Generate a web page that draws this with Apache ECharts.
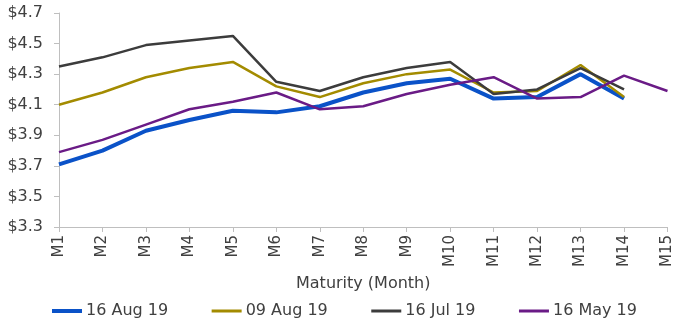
<!DOCTYPE html>
<html>
<head>
<meta charset="utf-8">
<style>
  html, body { margin: 0; padding: 0; background: #fff; }
  #chart { width: 675px; height: 323px; }
</style>
<script src="https://cdn.jsdelivr.net/npm/echarts@6/dist/echarts.min.js"></script>
</head>
<body>
<div id="chart"></div>
<script>
// Forward curve by maturity month, four snapshot dates
const maturities = ['M1','M2','M3','M4','M5','M6','M7','M8','M9','M10','M11','M12','M13','M14','M15'];

const aug16 = [3.71, 3.80, 3.93, 4.00, 4.06, 4.05, 4.09, 4.18, 4.24, 4.27, 4.14, 4.15, 4.30, 4.14, null];
const aug09 = [4.10, 4.18, 4.28, 4.34, 4.38, 4.22, 4.15, 4.24, 4.30, 4.33, 4.18, 4.19, 4.36, 4.15, null];
const jul16 = [4.35, 4.41, 4.49, 4.52, 4.55, 4.25, 4.19, 4.28, 4.34, 4.38, 4.17, 4.20, 4.34, 4.20, null];
const may16 = [3.79, 3.87, 3.97, 4.07, 4.12, 4.18, 4.07, 4.09, 4.17, 4.23, 4.28, 4.14, 4.15, 4.29, 4.19];

const seriesNames = ['16 Aug 19', '09 Aug 19', '16 Jul 19', '16 May 19'];
const yTicks = { min: 3.3, max: 4.7, step: 0.2 };

const FONT = '"DejaVu Sans", sans-serif';
const TEXT = '#404040';
const AXIS = '#bfbfbf';

const COLORS = ['#0a52c8', '#a38b00', '#3c3c3c', '#6a1b86'];
const WIDTHS = [4, 2.5, 2.5, 2.5];

const chart = echarts.init(document.getElementById('chart'), null, { renderer: 'canvas' });

function line(name, data, color, width) {
  return {
    name, type: 'line', data,
    symbol: 'none', connectNulls: false,
    lineStyle: { color, width },
    itemStyle: { color }
  };
}

chart.setOption({
  animation: false,
  textStyle: { fontFamily: FONT, color: TEXT },
  grid: { left: 59, right: 7, top: 13, bottom: 96, containLabel: false },
  legend: {
    top: 298,
    left: 45,
    itemWidth: 30,
    itemHeight: 14,
    itemGap: 42,
    // line-only legend keys: hide the marker drawn on top of each key line
    itemStyle: { opacity: 0 },
    textStyle: { fontFamily: FONT, fontSize: 16, color: TEXT, padding: [0, 0, 0, -1] },
    data: seriesNames.map((n, i) => ({
      name: n,
      lineStyle: { color: COLORS[i], width: i === 0 ? 4 : 3 }
    }))
  },
  xAxis: {
    type: 'category',
    data: maturities,
    boundaryGap: false,
    name: 'Maturity (Month)',
    nameLocation: 'middle',
    nameGap: 49,
    nameTextStyle: { fontFamily: FONT, fontSize: 16, color: TEXT },
    axisLine: { lineStyle: { color: AXIS, width: 1 } },
    axisTick: { show: true, alignWithLabel: true, length: 5, lineStyle: { color: AXIS } },
    axisLabel: { rotate: 90, margin: 8, fontSize: 15, color: TEXT, fontFamily: FONT, interval: 0 },
    splitLine: { show: false }
  },
  yAxis: {
    type: 'value',
    min: yTicks.min,
    max: yTicks.max,
    interval: yTicks.step,
    axisLine: { show: true, lineStyle: { color: AXIS, width: 1 } },
    axisTick: { show: true, length: 5, lineStyle: { color: AXIS } },
    axisLabel: {
      margin: 16, fontSize: 16, color: TEXT, fontFamily: FONT,
      formatter: v => '$' + v.toFixed(1)
    },
    splitLine: { show: false }
  },
  series: [
    line(seriesNames[0], aug16, COLORS[0], WIDTHS[0]),
    line(seriesNames[1], aug09, COLORS[1], WIDTHS[1]),
    line(seriesNames[2], jul16, COLORS[2], WIDTHS[2]),
    line(seriesNames[3], may16, COLORS[3], WIDTHS[3])
  ]
});
</script>
</body>
</html>
